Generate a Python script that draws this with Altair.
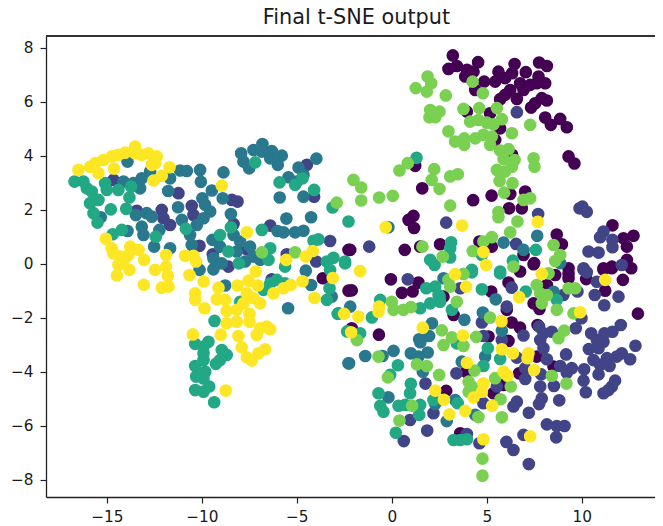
import altair as alt
import pandas as pd

purple = [(-2.28,0.52),(-3.63,-0.53),(-2.28,-0.99),(3.21,7.72),(2.98,7.22),(3.42,7.33),(3.95,7.19),(3.86,6.94),(4.54,7.47),(4.30,7.12),(4.39,6.44),(4.86,6.75),(5.61,7.12),(5.44,6.75),(6.46,7.40),(6.33,7.06),(5.96,6.88),(7.05,7.10),(7.75,7.46),(8.16,7.33),(7.72,6.94),(8.07,6.69),(7.63,6.69),(6.75,6.69),(7.28,6.63),(6.93,6.44),(6.23,6.44),(5.96,6.26),(5.70,6.10),(6.58,6.11),(7.89,6.14),(8.16,6.05),(7.54,5.95),(7.33,5.79),(8.07,5.42),(8.37,5.15),(8.86,5.37),(9.21,5.06),(9.30,3.98),(9.61,3.72),(3.95,5.64),(5.17,5.58),(5.70,5.02),(5.44,4.59),(6.33,4.04),(1.23,3.63),(1.60,2.80),(4.28,2.36),(5.25,2.53),(6.23,2.59),(7.02,2.68),(6.17,2.06),(6.84,2.06),(1.14,1.78),(0.88,1.63),(1.17,1.33),(8.68,1.09),(8.95,0.73),(11.61,1.43),(12.19,0.95),(12.72,1.04),(12.37,0.64),(-2.19,0.52),(0.68,0.52),(1.49,0.64),(2.54,0.73),(4.61,0.83),(5.26,0.64),(6.93,0.33),(7.49,0.03),(9.30,-0.16),(12.37,0.15),(11.14,-0.16),(11.58,-0.16),(-2.11,-0.98),(-0.05,-0.57),(0.53,-1.07),(1.10,-1.02),(1.40,-0.69),(2.72,-1.21),(3.25,-1.89),(-0.68,-2.62),(-2.11,-2.38),(5.23,-1.02),(6.14,-0.69),(6.75,-0.28),(7.46,-0.01),(8.60,-0.41),(9.30,-0.35),(9.30,-0.53),(8.16,-0.78),(10.23,-0.56),(11.14,-0.22),(11.58,-0.10),(12.16,-0.59),(12.60,-0.16),(11.23,-0.99),(12.95,-1.84),(7.46,-1.46),(7.77,-1.67),(6.05,-1.70),(6.31,-2.17),(6.75,-2.36),(7.67,-2.26),(5.09,-2.69),(6.14,-2.85),(7.63,-3.43),(8.51,-3.80),(6.70,-4.05),(3.91,-3.99),(5.88,-4.48),(5.35,-4.79),(2.86,-4.70),(3.60,-6.27)]

indigo = [(-14.65,3.11),(-11.23,2.62),(-4.47,3.67),(-4.09,2.49),(-8.42,2.37),(-8.12,2.31),(-10.53,2.15),(-12.11,2.0),(-13.42,1.97),(-12.02,1.69),(-11.67,1.44),(-10.44,1.81),(-8.33,1.48),(-6.40,1.42),(-3.25,0.85),(-10.12,0.67),(-9.42,0.36),(-8.60,-0.10),(-5.53,0.36),(-3.98,0.09),(-7.63,0.54),(-6.32,-0.57),(6.58,5.62),(7.70,1.85),(9.88,2.06),(10.03,2.12),(10.26,1.93),(2.86,1.53),(-1.19,0.64),(6.54,0.74),(11.14,1.20),(10.96,0.99),(11.61,0.89),(11.61,0.62),(10.35,0.46),(10.88,0.42),(12.10,-0.04),(10.09,-0.16),(0.84,-0.57),(3.60,-0.90),(6.31,-0.88),(6.05,-1.58),(4.74,-2.17),(6.93,-2.65),(5.79,-2.82),(4.82,-2.67),(6.58,-3.47),(7.75,-2.32),(7.98,-2.57),(8.42,-2.51),(7.81,-2.82),(7.98,-3.12),(8.16,-3.53),(7.02,-3.86),(7.86,-4.09),(7.02,-4.26),(5.53,-4.54),(3.40,-4.05),(1.77,-4.43),(7.81,-4.54),(8.53,-4.52),(7.89,-4.98),(7.75,-5.19),(8.81,-5.05),(6.58,-5.10),(6.40,-5.28),(4.82,-5.16),(7.21,-5.51),(2.19,-5.53),(0.96,-5.78),(1.86,-6.17),(0.63,-6.56),(3.95,-6.30),(4.61,-6.64),(6.03,-6.59),(6.40,-6.89),(7.21,-7.41),(8.65,-6.42),(8.16,-5.94),(8.68,-6.0),(9.09,-6.0),(6.93,-6.33),(10.09,-0.22),(10.26,-0.31),(10.79,-0.66),(10.68,-1.15),(11.93,-1.21),(11.18,-1.53),(9.77,-1.02),(9.03,-1.15),(9.98,-2.01),(9.68,-2.38),(12.05,-2.26),(11.61,-2.51),(11.19,-2.57),(10.49,-2.57),(10.79,-2.82),(11.14,-2.88),(10.37,-3.15),(10.88,-3.12),(12.82,-3.03),(12.10,-3.31),(12.54,-3.53),(11.84,-3.43),(11.32,-3.49),(10.61,-3.56),(10.96,-3.74),(11.46,-3.78),(10.88,-4.09),(9.17,-3.35),(8.86,-3.78),(9.47,-3.86),(9.21,-4.03),(10.12,-3.90),(10.09,-4.32),(10.21,-4.75),(11.75,-4.32),(11.58,-4.54),(11.40,-4.67),(11.14,-4.79)]

blue = [(-13.91,3.79),(-7.93,4.10),(-7.28,4.22),(-6.81,4.44),(-6.84,4.16),(-6.32,4.18),(-5.79,4.01),(-6.40,3.91),(-6.0,3.67),(-7.81,3.79),(-7.51,3.54),(-3.97,3.90),(-4.91,3.57),(-5.44,3.21),(-4.65,3.30),(-5.0,3.05),(-4.65,2.49),(-5.90,2.46),(-5.55,1.68),(-4.25,1.73),(-6.02,1.22),(-5.70,1.17),(-5.09,1.17),(-4.65,1.23),(-11.14,3.46),(-10.79,3.44),(-10.09,3.48),(-10.05,3.04),(-8.86,3.39),(-11.67,3.17),(-12.72,3.42),(-13.16,3.17),(-13.6,2.99),(-13.25,2.80),(-14.12,3.05),(-11.77,2.70),(-9.47,2.72),(-8.90,2.43),(-9.97,2.43),(-9.83,2.19),(-9.56,1.94),(-9.91,1.69),(-10.26,1.44),(-8.47,1.85),(-11.25,2.10),(-13.47,1.81),(-12.9,1.88),(-12.63,1.75),(-13.16,1.38),(-13.07,1.07),(-12.23,1.26),(-12.51,0.64),(-11.67,0.58),(-15.32,1.73),(-13.91,1.22),(-11.05,1.63),(-10.62,1.07),(-10.53,0.70),(-9.44,0.89),(-8.33,1.07),(-7.98,0.83),(-7.46,0.64),(-9.04,0.64),(-8.16,0.46),(-7.28,0.27),(-6.93,0.15),(-7.72,0.09),(-9.39,0.21),(-8.95,0.02),(-9.39,-0.20),(-10.12,-0.22),(-8.77,-0.80),(-5.46,-1.64),(-4.53,-0.25),(-4.25,-0.78),(-3.16,-1.21),(-2.81,-1.83),(-2.28,-3.68),(-0.18,1.36),(5.88,0.79),(6.93,0.52),(7.65,1.04),(8.86,0.03),(-2.19,-1.58),(2.11,-2.20),(1.96,-2.67),(1.44,-2.79),(1.50,-2.90),(1.89,-3.28),(1.0,-3.31),(1.40,-3.43),(0.09,-3.22),(-1.40,-3.41),(-0.49,-3.41),(-2.25,-3.68),(1.63,-3.99),(-0.18,-4.94),(3.82,-2.07),(4.79,-1.80),(5.47,-1.31),(5.79,-2.47),(4.91,-3.43),(8.51,-1.03),(2.72,-0.53),(2.54,-1.21),(2.89,-5.82),(3.33,-5.04),(4.39,-5.59),(2.28,-5.19),(3.68,-3.62)]

teal = [(-16.70,3.05),(-16.23,3.05),(-16.05,2.80),(-15.79,2.68),(-15.44,2.37),(-15.88,2.25),(-15.70,1.88),(-15.49,1.53),(-14.79,2.02),(-13.98,2.04),(-15.09,2.99),(-15.0,2.74),(-14.39,2.74),(-13.72,2.86),(-13.81,2.46),(-14.69,1.10),(-14.21,1.26),(-12.42,1.01),(-10.84,1.3),(-9.04,1.07),(-8.47,1.36),(-8.6,0.46),(-8.05,0.02),(-6.84,1.26),(-6.40,0.58),(-6.49,0.15),(-7.19,3.76),(-5.91,3.02),(-5.09,2.93),(-4.70,3.17),(-4.09,2.74),(-3.12,2.09),(-2.28,1.57),(-4.12,0.86),(-3.86,0.91),(-5.62,-0.10),(-3.42,0.09),(-3.07,0.23),(-2.46,0.02),(-3.25,-0.22),(-3.28,-0.90),(-3.42,-1.33),(-6.05,-0.59),(-6.40,-0.72),(-5.62,-0.72),(-6.75,-0.96),(-7.98,-1.40),(-9.33,-2.11),(-10.35,-2.96),(-9.91,-3.06),(-9.65,-2.88),(-9.91,-3.31),(-9.91,-3.56),(-10.35,-3.78),(-9.82,-3.99),(-10.30,-4.17),(-9.91,-4.24),(-9.61,-4.54),(-10.35,-4.67),(-9.91,-4.73),(-9.35,-5.12),(-8.95,-3.19),(-8.69,-3.37),(-9.04,-3.56),(-9.26,-3.70),(1.30,3.93),(3.12,0.80),(3.07,0.58),(3.07,0.24),(2.02,0.15),(2.25,-0.04),(-2.46,0.09),(7.58,0.52),(4.74,0.33),(6.37,0.12),(4.21,-0.22),(5.70,-0.28),(4.21,-0.31),(5.70,-0.35),(1.81,-0.90),(2.28,-0.84),(4.74,-0.94),(7.05,-1.02),(-0.61,-1.33),(-1.05,-1.98),(2.46,-1.15),(2.54,-1.40),(2.02,-1.46),(1.49,-1.64),(3.16,-1.70),(8.68,-1.33),(-1.67,-2.57),(3.42,-2.94),(5.05,-3.12),(5.70,-3.52),(0.32,-3.75),(4.82,-3.78),(1.0,-4.44),(-0.70,-4.79),(0.96,-4.79),(-0.61,-5.25),(-0.44,-5.47),(0.35,-5.25),(0.70,-5.22),(1.49,-5.22),(1.44,-5.59),(2.19,-5.04),(3.47,-5.16),(0.21,-6.25),(3.25,-6.52),(3.60,-6.52),(3.95,-6.49),(-0.09,-4.11),(-2.35,-2.5),(-2.85,-1.85)]

green = [(-6.84,0.43),(-5.09,0.43),(-2.90,2.27),(1.88,6.94),(2.07,6.69),(1.26,6.51),(1.84,6.38),(2.84,6.24),(4.25,6.75),(4.79,6.32),(2.02,5.70),(2.51,5.64),(1.98,5.43),(2.28,5.43),(3.77,5.74),(4.60,5.77),(5.53,5.77),(5.79,5.36),(4.12,5.27),(4.56,5.33),(5.0,5.23),(5.35,5.17),(7.28,5.15),(6.32,4.84),(2.98,4.91),(3.33,4.53),(3.81,4.65),(3.81,4.41),(4.39,4.65),(4.82,4.78),(5.26,4.72),(5.17,4.41),(5.70,4.20),(6.14,4.25),(5.88,3.88),(6.46,3.85),(6.32,3.60),(5.53,3.48),(5.96,3.42),(5.67,3.07),(6.35,2.99),(5.91,2.64),(7.46,3.91),(7.51,3.6),(6.93,2.37),(7.28,2.43),(5.61,1.92),(5.61,1.73),(6.61,1.57),(6.23,1.17),(0.84,3.73),(0.40,3.46),(2.23,3.51),(2.10,3.11),(2.51,2.78),(3.07,3.24),(3.47,3.32),(-2.02,3.11),(-1.61,2.83),(-1.61,2.35),(-0.67,2.46),(0.05,2.52),(3.07,2.16),(5.26,0.99),(4.82,0.83),(1.61,0.64),(4.26,0.48),(2.68,0.27),(8.51,0.70),(8.86,0.33),(8.6,0.11),(6.40,-0.1),(3.77,-0.37),(2.98,-0.59),(3.07,-0.84),(8.25,-0.35),(7.63,-0.78),(7.81,-1.09),(8.16,-1.15),(7.89,-1.46),(9.30,-0.90),(9.65,-0.90),(8.68,-1.70),(9.56,-1.83),(3.42,-1.40),(0.0,-1.40),(0.09,-1.70),(0.61,-1.70),(1.0,-1.60),(5.17,-1.99),(2.63,-2.46),(3.16,-2.72),(2.72,-3.0),(3.77,-3.04),(4.44,-2.70),(-1.84,-2.82),(-0.70,-3.43),(1.32,-3.72),(1.84,-3.78),(-0.21,-4.20),(2.49,-4.11),(4.35,-3.95),(5.44,-4.23),(4.04,-4.36),(4.21,-4.54),(4.04,-4.73),(6.26,-4.54),(8.42,-4.14),(9.19,-4.43),(5.72,-5.01),(1.07,-5.25),(4.56,-5.67),(5.79,-5.68),(0.40,-5.80),(8.77,-2.75),(9.07,-2.47),(4.77,-7.21),(4.77,-7.84)]

yellow = [(-16.49,3.48),(-15.88,3.60),(-15.62,3.73),(-15.18,3.85),(-14.74,3.98),(-14.39,4.04),(-14.04,4.12),(-13.51,4.35),(-13.51,4.10),(-13.16,4.04),(-12.81,4.10),(-12.37,3.98),(-12.46,3.73),(-12.63,3.67),(-15.44,3.36),(-14.62,3.53),(-11.70,3.58),(-12.11,3.26),(-12.54,3.09),(-8.95,2.90),(-15.05,0.93),(-14.74,0.58),(-14.65,0.39),(-14.30,0.27),(-13.77,0.64),(-13.33,0.52),(-13.04,0.15),(-13.86,0.33),(-14.12,0.09),(-14.39,-0.04),(-13.81,-0.22),(-14.47,-0.43),(-13.05,-0.77),(-12.46,-0.22),(-11.88,-0.10),(-11.79,-0.44),(-11.75,-0.84),(-12.11,-0.88),(-11.88,0.33),(-10.88,0.30),(-10.44,0.30),(-10.30,0.09),(-10.65,-0.41),(-9.91,-0.65),(-10.35,-1.09),(-10.35,-1.33),(-9.86,-1.64),(-9.12,-0.88),(-9.21,-1.31),(-8.77,-1.33),(-8.12,-0.80),(-7.54,-0.62),(-7.16,-0.28),(-7.05,-0.80),(-7.63,-1.09),(-7.28,-1.27),(-6.93,-1.46),(-7.81,-1.46),(-8.16,-1.70),(-8.69,-1.74),(-7.49,-1.85),(-7.49,-2.14),(-8.16,-2.14),(-8.69,-2.20),(-9.0,-2.62),(-10.47,-2.61),(-8.07,-2.67),(-7.11,-2.63),(-6.93,-2.38),(-6.40,-2.42),(-6.58,-2.32),(-7.90,-3.09),(-7.63,-3.46),(-7.37,-3.58),(-7.02,-3.31),(-6.67,-3.16),(-8.74,-4.69),(-6.23,-1.09),(-5.70,-0.90),(-5.32,-0.78),(-4.70,-0.64),(-4.07,-1.26),(-3.11,-0.52),(-5.56,0.15),(-4.53,0.27),(-4.16,0.48),(-7.63,1.17),(-2.51,-1.85),(-2.14,-2.53),(-0.32,1.36),(3.70,1.42),(7.68,1.56),(4.82,0.44),(4.96,-0.04),(-1.67,-0.26),(3.33,-0.38),(3.91,-0.84),(7.89,-0.37),(11.23,-0.59),(6.70,-1.23),(-1.76,-1.95),(-0.67,-1.58),(-0.70,-1.77),(9.91,-1.79),(5.77,-2.12),(1.63,-2.36),(3.74,-2.65),(5.79,-3.16),(6.37,-3.31),(7.19,-3.31),(7.14,-3.49),(3.95,-3.66),(7.49,-3.93),(5.88,-3.99),(6.09,-4.14),(4.82,-4.42),(4.74,-4.73),(4.30,-4.95),(2.28,-4.69),(2.74,-5.03),(5.28,-5.25),(3.86,-5.44),(3.03,-5.57),(7.28,-6.38),(4.82,-6.49)]

groups = ["a", "b", "c", "d", "e", "f"]
palette = ["#440154", "#414487", "#2a788e", "#22a884", "#7ad151", "#fde725"]
x_ticks = [-15, -10, -5, 0, 5, 10]
y_ticks = [-8, -6, -4, -2, 0, 2, 4, 6, 8]

rows = []
for order, (g, pts) in enumerate(zip(groups, [purple, indigo, blue, teal, green, yellow])):
    for x, y in pts:
        rows.append({"x": x, "y": y, "g": g, "o": order})
df = pd.DataFrame(rows)

axis_common = dict(
    grid=False, title=None, labelFont="DejaVu Sans", labelFontSize=15.3, labelColor="#1a1a1a",
    tickColor="#222222", domainColor="#222222", tickSize=6, tickWidth=1.2, domainWidth=1.3,
)

points = (
    alt.Chart(df)
    .mark_circle(size=160, opacity=1)
    .encode(
        x=alt.X("x:Q", scale=alt.Scale(domain=[-18.2, 13.85], nice=False, zero=False),
                axis=alt.Axis(values=x_ticks, format="d", labelPadding=6, **axis_common)),
        y=alt.Y("y:Q", scale=alt.Scale(domain=[-8.63, 8.44], nice=False, zero=False),
                axis=alt.Axis(values=y_ticks, format="d", labelPadding=7, **axis_common)),
        color=alt.Color("g:N", scale=alt.Scale(domain=groups, range=palette), legend=None),
        order=alt.Order("o:Q"),
    )
)

top_spine = alt.Chart(df).mark_rule(color="#333333", strokeWidth=1.3).encode(
    x=alt.value(0), x2=alt.value(609), y=alt.value(0)
)

chart = (
    alt.layer(points, top_spine)
    .properties(
        width=609, height=461,
        title=alt.TitleParams("Final t-SNE output", font="DejaVu Sans", fontSize=20.8,
                              fontWeight="normal", color="#1a1a1a", offset=7, dx=6),
        autosize=alt.AutoSizeParams(type="none"),
        padding={"left": 38, "top": 28, "right": 0, "bottom": 29},
    )
    .configure_view(stroke=None)
)

chart.save("out.html", embed_options={"renderer": "svg", "actions": False})
